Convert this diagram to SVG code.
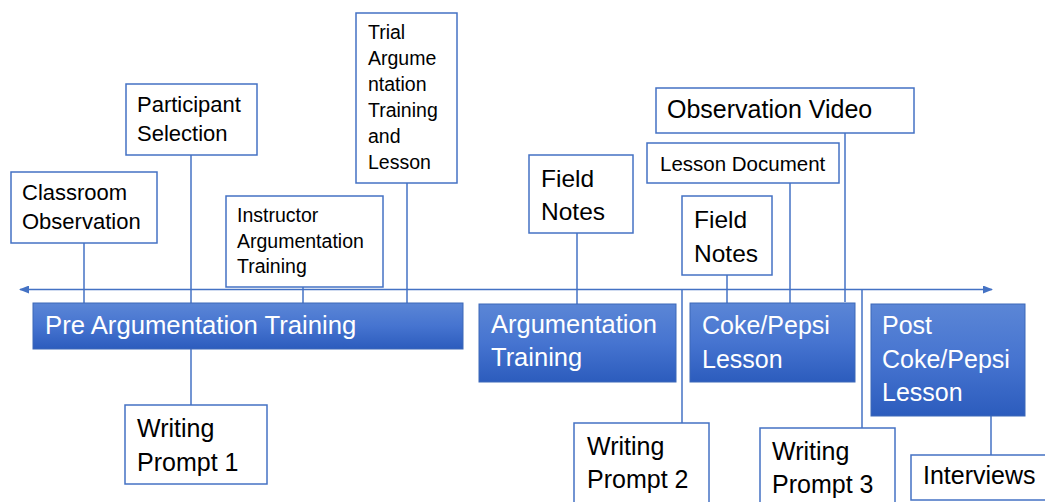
<svg xmlns="http://www.w3.org/2000/svg" width="1045" height="502" viewBox="0 0 1045 502">
<style>
.box{fill:#fff;stroke:#4472c4;stroke-width:1.5}
.phase{fill:url(#g);stroke:#3d68b8;stroke-width:1}
.c{stroke:#4472c4;stroke-width:1.5;fill:none}
text{font-family:"Liberation Sans",Arial,sans-serif;fill:#000}
.w{fill:#fff}
</style>
<defs>
<linearGradient id="g" x1="0" y1="0" x2="0" y2="1">
<stop offset="0" stop-color="#5b86d6"/>
<stop offset="0.5" stop-color="#4674d0"/>
<stop offset="1" stop-color="#2c5cbd"/>
</linearGradient>
<marker id="ah" markerWidth="10" markerHeight="8" refX="9" refY="4" orient="auto-start-reverse" markerUnits="userSpaceOnUse">
<path d="M0,0 L10,4 L0,8 z" fill="#4472c4"/>
</marker>
</defs>
<g id="connectors">
<line class="c" x1="20" y1="289.5" x2="992" y2="289.5" marker-start="url(#ah)" marker-end="url(#ah)"/>
<line class="c" x1="84" y1="243" x2="84" y2="303"/>
<line class="c" x1="191" y1="155" x2="191" y2="303"/>
<line class="c" x1="191" y1="349" x2="191" y2="405"/>
<line class="c" x1="303" y1="287" x2="303" y2="303"/>
<line class="c" x1="407" y1="183" x2="407" y2="303"/>
<line class="c" x1="577" y1="233" x2="577" y2="304"/>
<line class="c" x1="682" y1="289.5" x2="682" y2="423"/>
<line class="c" x1="727" y1="275" x2="727" y2="303"/>
<line class="c" x1="790" y1="183" x2="790" y2="303"/>
<line class="c" x1="845" y1="133" x2="845" y2="302"/>
<line class="c" x1="862" y1="289.5" x2="862" y2="428"/>
<line class="c" x1="991" y1="416" x2="991" y2="455"/>
</g>
<g id="classroom-observation">
<rect class="box" x="11" y="172" width="146" height="71"/>
<text x="22" y="200" font-size="22">Classroom</text>
<text x="22" y="229" font-size="22">Observation</text>
</g>
<g id="participant-selection">
<rect class="box" x="126" y="84" width="131" height="71"/>
<text x="137" y="112" font-size="22">Participant</text>
<text x="137" y="141" font-size="22">Selection</text>
</g>
<g id="instructor-training">
<rect class="box" x="226" y="196" width="157" height="91"/>
<text x="237" y="222" font-size="19.5">Instructor</text>
<text x="237" y="248" font-size="19.5">Argumentation</text>
<text x="237" y="273" font-size="19.5">Training</text>
</g>
<g id="trial-training">
<rect class="box" x="356" y="13" width="101" height="170"/>
<text x="368" y="39" font-size="19.5">Trial</text>
<text x="368" y="65" font-size="19.5">Argume</text>
<text x="368" y="91" font-size="19.5">ntation</text>
<text x="368" y="117" font-size="19.5">Training</text>
<text x="368" y="143" font-size="19.5">and</text>
<text x="368" y="169" font-size="19.5">Lesson</text>
</g>
<g id="field-notes-1">
<rect class="box" x="529" y="155" width="104" height="78"/>
<text x="541" y="187" font-size="24.5">Field</text>
<text x="541" y="220" font-size="24.5">Notes</text>
</g>
<g id="observation-video">
<rect class="box" x="656" y="88" width="258" height="45"/>
<text x="667" y="118" font-size="25">Observation Video</text>
</g>
<g id="lesson-document">
<rect class="box" x="647" y="143" width="192" height="40"/>
<text x="660" y="171" font-size="20.5">Lesson Document</text>
</g>
<g id="field-notes-2">
<rect class="box" x="682" y="196" width="90" height="79"/>
<text x="694" y="228" font-size="24.5">Field</text>
<text x="694" y="262" font-size="24.5">Notes</text>
</g>
<g id="pre-argumentation-training">
<rect class="phase" x="33" y="303" width="430" height="46"/>
<text class="w" x="45" y="334" font-size="25.7">Pre Argumentation Training</text>
</g>
<g id="argumentation-training">
<rect class="phase" x="479" y="304" width="197" height="78"/>
<text class="w" x="491" y="333" font-size="25.5">Argumentation</text>
<text class="w" x="491" y="366" font-size="25.5">Training</text>
</g>
<g id="coke-pepsi-lesson">
<rect class="phase" x="690" y="303" width="165" height="79"/>
<text class="w" x="702" y="334" font-size="25">Coke/Pepsi</text>
<text class="w" x="702" y="368" font-size="25">Lesson</text>
</g>
<g id="post-coke-pepsi-lesson">
<rect class="phase" x="871" y="304" width="154" height="112"/>
<text class="w" x="882" y="334" font-size="25">Post</text>
<text class="w" x="882" y="368" font-size="25">Coke/Pepsi</text>
<text class="w" x="882" y="401" font-size="25">Lesson</text>
</g>
<g id="writing-prompt-1">
<rect class="box" x="125" y="405" width="142" height="79"/>
<text x="137" y="437" font-size="25">Writing</text>
<text x="137" y="471" font-size="25">Prompt 1</text>
</g>
<g id="writing-prompt-2">
<rect class="box" x="574" y="423" width="135" height="85"/>
<text x="587" y="455" font-size="25">Writing</text>
<text x="587" y="488" font-size="25">Prompt 2</text>
</g>
<g id="writing-prompt-3">
<rect class="box" x="760" y="428" width="135" height="80"/>
<text x="772" y="460" font-size="25">Writing</text>
<text x="772" y="493" font-size="25">Prompt 3</text>
</g>
<g id="interviews">
<rect class="box" x="911" y="455" width="140" height="45"/>
<text x="923" y="484" font-size="25">Interviews</text>
</g>
</svg>
